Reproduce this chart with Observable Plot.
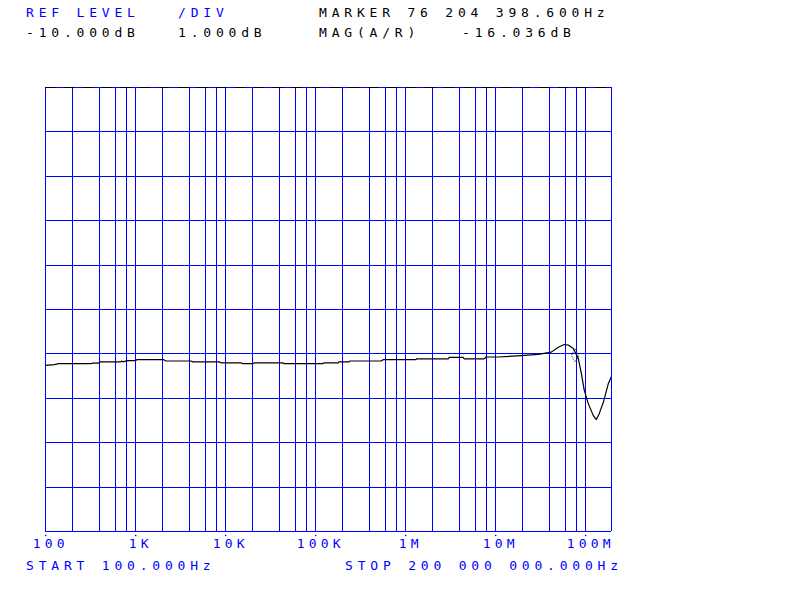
<!DOCTYPE html>
<html><head><meta charset="utf-8">
<script src="https://cdn.jsdelivr.net/npm/d3@7"></script>
<script src="https://cdn.jsdelivr.net/npm/@observablehq/plot@0.6"></script>
<style>
html,body{margin:0;padding:0;background:#fff;}
#wrap{position:relative;width:800px;height:600px;overflow:hidden;background:#fff;}
#wrap svg{position:absolute;left:0;top:0;}
#wrap svg g[aria-label="text"]{letter-spacing:4.2px;}
.t{position:absolute;font-family:"DejaVu Sans Mono",monospace;font-size:13px;line-height:13px;letter-spacing:4.8px;white-space:pre;}
.b{color:#0000ff}.k{color:#000000}
</style></head><body>
<div id="wrap">
  <div class="t b" style="left:26px;top:6px">REF LEVEL</div>
  <div class="t b" style="left:178px;top:6px">/DIV</div>
  <div class="t k" style="left:319px;top:6px">MARKER 76 204 398.600Hz</div>
  <div class="t k" style="left:26px;top:26px">-10.000dB</div>
  <div class="t k" style="left:178px;top:26px">1.000dB</div>
  <div class="t k" style="left:319px;top:26px">MAG(A/R)</div>
  <div class="t k" style="left:462px;top:26px">-16.036dB</div>
  <div class="t b" style="left:26px;top:559px">START 100.000Hz</div>
  <div class="t b" style="left:345px;top:559px">STOP 200 000 000.000Hz</div>
</div>
<script>
// Trace (frequency in Hz, magnitude in dB)
const freqHz = [100,125,139.5,316,330,388,400,680,700,720,817,1000,1030,2050,2160,4100,4320,8400,8850,14760,15500,20000,21000,43000,44400,120600,123700,177000,181600,234600,240000,532000,561000,1.3e6,1.33e6,2.96e6,3.05e6,4.35e6,4.45e6,7.45e6,7.84e6,1.07e7,1.92e7,2.97e7,4.14e7,4.96e7,5.78e7,6.4e7,7.28e7,8.27e7,8.94e7,9.64e7,1.069e8,1.215e8,1.312e8,1.416e8,1.57e8,1.783e8,2e8];
const magDb  = [-16.26,-16.24,-16.22,-16.22,-16.21,-16.21,-16.18,-16.18,-16.16,-16.18,-16.15,-16.15,-16.13,-16.13,-16.16,-16.16,-16.18,-16.18,-16.20,-16.20,-16.22,-16.22,-16.20,-16.20,-16.22,-16.22,-16.20,-16.20,-16.18,-16.18,-16.16,-16.16,-16.13,-16.13,-16.11,-16.11,-16.08,-16.08,-16.11,-16.11,-16.07,-16.07,-16.04,-16.01,-15.96,-15.85,-15.79,-15.80,-15.88,-16.10,-16.44,-16.82,-17.12,-17.39,-17.48,-17.34,-17.09,-16.67,-16.44];

// Marker
const markerFreq = [76204398.6];
const markerDb = [-16.036];

// Grid
const gridFreqs = [100,200,400,600,800,1e3,2e3,4e3,6e3,8e3,1e4,2e4,4e4,6e4,8e4,1e5,2e5,4e5,6e5,8e5,1e6,2e6,4e6,6e6,8e6,1e7,2e7,4e7,6e7,8e7,1e8,2e8];
const gridDb = [-10,-11,-12,-13,-14,-15,-16,-17,-18,-19,-20];

// Tick labels
const tickFreqs = [100,1e3,1e4,1e5,1e6,1e7,1e8];
const tickLabels = ["100","1K","10K","100K","1M","10M","100M"];

const trace = freqHz.map((f,i)=>({f, db: magDb[i]}));
const marker = markerFreq.map((f,i)=>({f, db: markerDb[i]}));
const ticks = tickFreqs.map((f,i)=>({f, label: tickLabels[i]}));
const BLUE = "#0000ff";
const W = 800, H = 600, ML = 45, MR = 189, MT = 87, MB = 69;

const chart = Plot.plot({
  width: W, height: H,
  marginLeft: ML, marginRight: MR, marginTop: MT, marginBottom: MB,
  x: {type: "log", domain: [100, 2e8], range: [ML + 0.2, W - MR + 1.3], axis: null},
  y: {domain: [-20, -10], axis: null},
  style: {background: "transparent"},
  marks: [
    Plot.ruleY(gridDb, {stroke: BLUE, strokeWidth: 1}),
    Plot.ruleX(gridFreqs, {stroke: BLUE, strokeWidth: 1}),
    Plot.ruleY([-10], {stroke: "black", strokeWidth: 1}),
    Plot.ruleY([-10], {stroke: BLUE, strokeWidth: 1, strokeDasharray: "9,10", strokeDashoffset: 9}),
    Plot.line(trace, {x: "f", y: "db", stroke: "black", strokeWidth: 1.2, clip: true}),
    Plot.dot(marker, {x: "f", y: "db", symbol: "diamond", r: 4, stroke: "black", strokeWidth: 1, strokeDasharray: "1,1.6", fill: "none"}),
    Plot.dot(ticks, {x: "f", y: () => -20, dy: 4, r: 0.8, fill: BLUE, stroke: null}),
    Plot.text(ticks, {x: "f", y: () => -20, text: "label", dy: 16.5, dx: 5, lineAnchor: "bottom", textAnchor: "middle",
      fill: BLUE, fontFamily: "DejaVu Sans Mono", fontSize: 13})
  ]
});
// snap grid rules to whole pixels (inside the frame) so they render as crisp 1px lines
d3.select(chart).selectAll('g[aria-label="rule"] line').each(function () {
  for (const a of ["x1", "x2", "y1", "y2"]) {
    const v = this.getAttribute(a);
    if (v == null || v === "") continue;
    let r = Math.round(+v);
    if (a[0] === "x") r = Math.max(ML, Math.min(W - MR, r));
    this.setAttribute(a, r);
  }
});
document.getElementById("wrap").prepend(chart);
</script>
</body></html>
